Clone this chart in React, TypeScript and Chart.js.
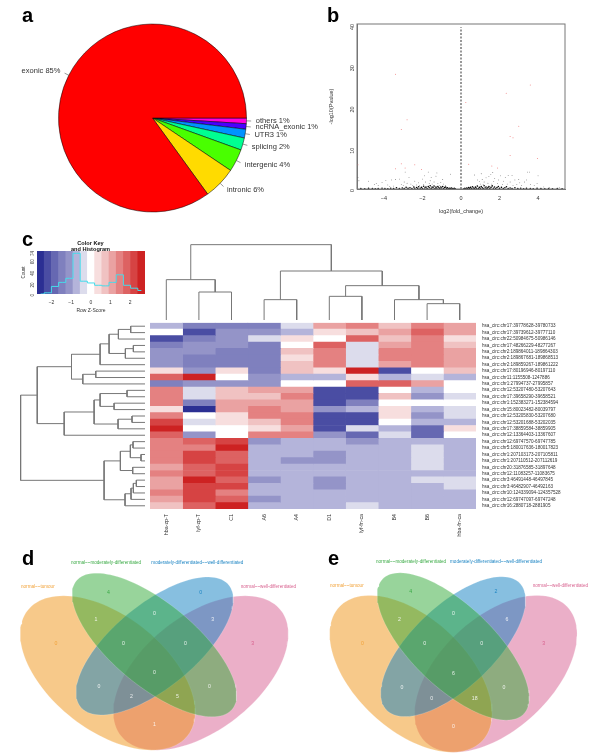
import React, { useEffect, useRef } from 'react';
import { Chart, registerables } from 'chart.js';

Chart.register(...registerables);
Chart.defaults.font.family = '"Liberation Sans", Arial, sans-serif';
Chart.defaults.plugins.legend.display = false;
Chart.defaults.plugins.tooltip.enabled = false;

// panel a
const pieLabels = ['others 1%', 'ncRNA_exonic 1%', 'UTR3 1%', 'splicing 2%', 'intergenic 4%', 'intronic 6%', 'exonic 85%'];
const pieValues = [0.97, 0.95, 1.5, 2.1, 3.9, 5.6, 85];
const pieColours = ['#FF00DB', '#4900FF', '#0092FF', '#00FF92', '#49FF00', '#FFDB00', '#FF0000'];

// panel b
const volcanoSig = [
  [-3.4, 27.8], [-2.8, 16.8], [-3.1, 14.4], [-5.35, 5.9], [-3.1, 6.1], [-2.9, 5.1], [-3.4, 4.9], [-2.4, 5.9], [-2.05, 4.7],
  [0.25, 21], [2.35, 23.2], [3.6, 25.2], [3, 15.2], [2.55, 12.7], [2.7, 12.4], [2.55, 8.1], [3.97, 7.4], [1.6, 5.6], [1.9, 5.1], [0.4, 6],
];
const volcanoScatter = [
  [-5.35, 2.8], [-5.3, 2], [-4.8, 1.9], [-4.5, 1.1], [-4.4, 1.3], [-4.3, 0.8], [-4.1, 1.6], [-3.9, 2.1], [-3.8, 1], [-3.7, 0.6],
  [-3.6, 2.2], [-3.4, 2.3], [-3.5, 0.7], [-3.2, 2.4], [-3.1, 1.1], [-3, 0.9], [-2.95, 1.7], [-2.9, 4.1], [-2.8, 1.4], [-2.7, 2.8],
  [-2.6, 1.2], [-2.5, 0.8], [-2.4, 1.9], [-2.3, 1], [-2.2, 1.5], [-2.15, 0.9], [-2, 2.4], [-1.95, 1.1], [-1.9, 3.2], [-1.85, 1.7],
  [-1.7, 4.1], [-1.65, 1.3], [-1.6, 2], [-1.55, 2.8], [-1.5, 1.2], [-1.4, 1.7], [-1.3, 3.1], [-1.25, 3.9], [-1.2, 1.3], [-1.1, 0.9],
  [-1.05, 1.6], [-0.95, 2.3], [-0.9, 1.2], [-0.8, 0.8], [-0.55, 3.6], [0.7, 3.4], [1.05, 3.7], [0.85, 2.2], [0.95, 1.8], [1, 1.2],
  [1.1, 2.3], [1.15, 1.1], [1.2, 1.7], [1.3, 2.7], [1.4, 1.4], [1.45, 3], [1.55, 3.5], [1.6, 1.2], [1.65, 4], [1.7, 1.8],
  [1.75, 2.6], [1.9, 1.3], [1.95, 2.2], [2.05, 3.2], [2.15, 1.1], [2.2, 1.9], [2.3, 2.8], [2.4, 1.2], [2.45, 3.3], [2.55, 1.7],
  [2.65, 3.3], [2.7, 0.9], [2.8, 2.2], [2.9, 1.1], [3, 2.3], [3.05, 1.5], [3.15, 0.8], [3.3, 1.7], [3.4, 2.2], [3.45, 4.1],
  [3.55, 4.1], [3.6, 1.1], [3.8, 0.9], [3.95, 1.3], [4, 3.2], [4.3, 0.5], [4.6, 0.4], [5.1, 0.4],
];
const volcanoBand = [
  [-5.2, 0.1], [-5, 0.05], [-4.8, 0.15], [-4.6, 0.1], [-4.45, 0.05], [-4.3, 0.1], [-4.1, 0.2], [-3.95, 0.1], [-3.8, 0.05], [-3.65, 0.2],
  [-3.5, 0.1], [-3.35, 0.3], [-3.2, 0.1], [-3.05, 0.25], [-2.95, 0.1], [-2.85, 0.4], [-2.75, 0.15], [-2.65, 0.3], [-2.55, 0.1], [-2.45, 0.5],
  [-2.4, 0.2], [-2.3, 0.35], [-2.25, 0.1], [-2.2, 0.55], [-2.12, 0.2], [-2.05, 0.4], [-2, 0.1], [-1.94, 0.65], [-1.88, 0.25], [-1.82, 0.45],
  [-1.76, 0.1], [-1.7, 0.6], [-1.65, 0.3], [-1.6, 0.8], [-1.55, 0.15], [-1.5, 0.5], [-1.45, 0.3], [-1.4, 0.7], [-1.35, 0.1], [-1.3, 0.45],
  [-1.25, 0.2], [-1.2, 0.6], [-1.15, 0.3], [-1.1, 0.1], [-1.05, 0.5], [-1, 0.25], [-0.95, 0.6], [-0.9, 0.1], [-0.85, 0.35], [-0.8, 0.5],
  [-0.75, 0.15], [-0.7, 0.3], [-0.65, 0.05], [-0.6, 0.2], [-0.55, 0.1], [-0.5, 0.25], [-0.45, 0.1], [-0.4, 0.05], [-0.35, 0.15], [-0.3, 0.05],
  [0.15, 0.05], [0.2, 0.15], [0.25, 0.05], [0.3, 0.25], [0.35, 0.1], [0.4, 0.35], [0.45, 0.15], [0.5, 0.4], [0.55, 0.1], [0.6, 0.55],
  [0.65, 0.25], [0.7, 0.1], [0.75, 0.45], [0.8, 0.2], [0.85, 0.7], [0.9, 0.1], [0.95, 0.4], [1, 0.2], [1.05, 0.6], [1.1, 0.3],
  [1.15, 0.1], [1.2, 0.8], [1.25, 0.25], [1.3, 0.5], [1.35, 0.1], [1.4, 0.35], [1.45, 0.6], [1.5, 0.15], [1.56, 0.4], [1.62, 0.75],
  [1.68, 0.2], [1.74, 0.5], [1.8, 0.1], [1.87, 0.35], [1.94, 0.6], [2, 0.15], [2.1, 0.4], [2.2, 0.1], [2.28, 0.3], [2.36, 0.55],
  [2.45, 0.1], [2.55, 0.25], [2.65, 0.1], [2.8, 0.3], [2.95, 0.1], [3.1, 0.2], [3.25, 0.05], [3.4, 0.15], [3.6, 0.1], [3.75, 0.05],
  [3.95, 0.15], [4.15, 0.1], [4.35, 0.05], [4.55, 0.1], [4.75, 0.05], [5, 0.1], [5.25, 0.05],
];
const zeroLine = [[0, 0], [0, 39.2]];

// panel c, colour key
const keyBinColours = [
  '#2B2F93', '#4A4DA3', '#6668B2', '#7F80BE', '#9494C8', '#B4B4DA', '#DCDCEC', '#FFFFFF',
  '#F7DEDE', '#F0C2C2', '#EAA2A2', '#E48181', '#DD6262', '#D64343', '#CD2222',
];
const keyBinCounts = [0, 2, 13, 20, 27, 70, 22, 19, 15, 14, 20, 33, 15, 10, 6];

// panel c, heat map: every cell is the colour key bin of its z-score, -7 to 7
const columnLabels = ['hba-zp-T', 'lyf-zp-T', 'C1', 'A6', 'A4', 'D1', 'lyf-fn-ca', 'B4', 'B6', 'hba-fn-ca'];
const rowLabels = [
  'hsa_circ:chr17:39778628-39780733', 'hsa_circ:chr17:39739612-39777110', 'hsa_circ:chr22:50984675-50986146',
  'hsa_circ:chr17:48266229-48277267', 'hsa_circ:chr2:189864011-189864303', 'hsa_circ:chr2:189867681-189868513',
  'hsa_circ:chr2:189859267-189861222', 'hsa_circ:chr17:80196946-80197110', 'hsa_circ:chr11:1155508-1247886',
  'hsa_circ:chr1:27994737-27995857', 'hsa_circ:chr12:53207480-53207643', 'hsa_circ:chr17:39658290-39658521',
  'hsa_circ:chr1:152383271-152384594', 'hsa_circ:chr15:80023482-80039797', 'hsa_circ:chr12:53205830-53207680',
  'hsa_circ:chr12:53201688-53202035', 'hsa_circ:chr17:38859584-38859905', 'hsa_circ:chr12:13364403-13367607',
  'hsa_circ:chr12:69747570-69747785', 'hsa_circ:chr5:180017636-180017823', 'hsa_circ:chr1:207103173-207105811',
  'hsa_circ:chr1:207110512-207112619', 'hsa_circ:chr20:31876585-31897648', 'hsa_circ:chr12:11083257-11083675',
  'hsa_circ:chr3:46491448-46497845', 'hsa_circ:chr3:46482907-46492163', 'hsa_circ:chr10:124339094-124357528',
  'hsa_circ:chr12:69747097-69747248', 'hsa_circ:chr16:2880718-2881905',
];
const heatBins = [
  [-2, -4, -4, -4, -1, 3, 4, 2, 4, 3],
  [0, -6, -3, -3, -2, 1, 2, 3, 5, 3],
  [-6, -4, -3, -1, 1, 0, 5, 2, 4, 1],
  [-4, -3, -3, -4, 0, 5, -1, 3, 4, 2],
  [-3, -3, -4, -4, 2, 4, -1, 4, 4, 3],
  [-3, -4, -4, -4, 1, 4, -1, 4, 4, 3],
  [-3, -4, -4, -4, 2, 4, -1, 3, 4, 3],
  [1, -3, 1, -4, 2, 1, 7, -6, 0, 2],
  [5, 7, 0, -3, -2, -2, 1, -2, -1, -2],
  [-4, -3, -3, -3, 0, 0, 5, 5, 3, 0],
  [4, -1, 2, 3, 3, -6, -6, 0, -2, 0],
  [4, -1, 2, 2, 4, -6, -6, 2, -3, -1],
  [4, -4, 3, 3, 3, -6, -4, 0, 0, 0],
  [1, -7, 3, 4, 3, -3, -2, 1, -2, -1],
  [4, 0, 1, 4, 4, -6, -6, 1, -3, -1],
  [6, -1, 1, 2, 4, -6, -6, 0, -2, -2],
  [7, 0, 0, 1, 3, -6, -1, -2, -5, 1],
  [5, -3, 0, 4, 4, -3, -5, -1, -5, 0],
  [4, 5, 6, -3, -2, -2, -3, -2, -2, -2],
  [4, 4, 7, -2, -2, -2, -2, -2, -1, -2],
  [4, 6, 5, -2, -2, -3, -2, -2, -1, -2],
  [4, 6, 5, -2, -3, -3, -2, -2, -1, -2],
  [3, 5, 6, -2, -2, -2, -2, -2, -1, -2],
  [4, 5, 6, -2, -2, -2, -2, -2, -2, -2],
  [3, 7, 5, -3, -2, -3, -2, -2, -1, -1],
  [3, 6, 6, -2, -2, -3, -2, -2, -2, -1],
  [4, 6, 4, -2, -2, -2, -2, -2, -2, -2],
  [3, 6, 5, -3, -2, -2, -2, -2, -2, -2],
  [2, 5, 7, -2, -2, -2, -1, -2, -2, -2],
];

// dendrograms, written like hclust merges: negative = leaf number, positive = earlier merge
const topMerges = [
  [-2, -3, 84], [-1, 1, 121], [-4, -5, 61], [-6, -7, 71], [-9, -10, 49],
  [-8, 5, 61], [4, 6, 103], [3, 7, 147], [2, 8, 226],
];
const leftMerges = [
  [-1, -2, 43], [1, -3, 80], [-4, -5, 35], [3, -6, 59], [2, 4, 108], [5, -7, 135], [-8, -9, 148],
  [7, -10, 187], [6, 8, 221], [-11, -12, 54], [-13, -14, 93], [10, 11, 135], [-15, -16, 39], [13, -17, 81],
  [12, 14, 153], [15, -18, 243], [9, 16, 324], [-19, -20, 36], [-21, -22, 12], [18, 19, 44], [-23, -24, 37],
  [20, 21, 74], [-25, -26, 26], [23, -27, 35], [24, -28, 42], [25, -29, 60], [22, 26, 123], [17, 27, 374],
];

// panels d and e
const vennSetNames = [
  'normal~~moderately-differentiated', 'moderately-differentiated~~well-differentiated',
  'normal~~tumour', 'normal~~well-differentiated',
];
const vennColours = ['rgba(49,169,55,0.5)', 'rgba(15,127,193,0.5)', 'rgba(239,147,21,0.5)', 'rgba(215,95,145,0.5)'];
const vennTextColours = ['#3CAB47', '#1F86C4', '#F2A33A', '#D8628F'];
const vennCountsD = [4, 0, 0, 3, 1, 0, 3, 0, 0, 0, 0, 0, 2, 5, 1];
const vennCountsE = [4, 2, 0, 3, 2, 0, 6, 0, 0, 6, 0, 0, 0, 18, 0];

const vennShapeD = [[463, 315, 303, 125, 39.5], [464, 318, 288, 125, -39.5], [323, 399, 305, 172, 38], [602.5, 399, 305, 172, -38]];
const vennShapeE = [[459.5, 319.5, 293, 123, 43.7], [459.5, 320, 276, 123, -43.5], [332.5, 401.5, 294, 168, 43], [587.5, 401.5, 294, 168, -43]];
const vennRegionsD = [
  [325, 158], [602, 158], [168, 311], [758, 311], [288, 238], [463, 222], [638, 238], [370, 311],
  [556, 311], [463, 399], [297, 439], [628, 439], [394, 471], [532, 471], [463, 553],
];
const vennRegionsE = [
  [332, 155], [588, 155], [187, 312], [731, 312], [298, 238], [460, 222], [621, 238], [374, 312],
  [545, 312], [460, 402], [306, 443], [612, 443], [395, 476], [524, 476], [460, 559],
];
const vennTitlesD = [[213, 69], [454, 69], [63, 139], [722, 139]];
const vennTitlesE = [[228, 65], [450, 65], [90, 137], [698, 137]];

const sizeAxis = (prop: 'width' | 'height', size: number) => (scale: any) => {
  scale[prop] = size;
};

const binColour = (bin: number) => keyBinColours[bin + 7];

const pieConfig = () => ({
  type: 'pie',
  data: {
    labels: pieLabels,
    datasets: [{ data: pieValues, backgroundColor: pieColours, borderColor: '#000', borderWidth: 0.5 }],
  },
  options: {
    animation: false,
    responsive: false,
    rotation: 90,
    radius: 94,
    layout: { padding: { right: 15 } },
  },
  plugins: [{
    id: 'pieText',
    afterDatasetsDraw(chart: any) {
      const ctx = chart.ctx;
      ctx.save();
      ctx.font = '7.5px "Liberation Sans"';
      ctx.fillStyle = '#333';
      ctx.strokeStyle = '#333';
      ctx.lineWidth = 0.5;
      ctx.textBaseline = 'middle';
      chart.getDatasetMeta(0).data.forEach((arc: any, i: number) => {
        const { x, y, startAngle, endAngle, outerRadius } = arc.getProps(['x', 'y', 'startAngle', 'endAngle', 'outerRadius']);
        const mid = (startAngle + endAngle) / 2;
        const c = Math.cos(mid);
        const s = Math.sin(mid);
        ctx.beginPath();
        ctx.moveTo(x + outerRadius * c, y + outerRadius * s);
        ctx.lineTo(x + outerRadius * 1.05 * c, y + outerRadius * 1.05 * s);
        ctx.stroke();
        ctx.textAlign = c > 0 ? 'left' : 'right';
        ctx.fillText(pieLabels[i], x + outerRadius * 1.1 * c, y + outerRadius * 1.1 * s);
      });
      ctx.restore();
    },
  }],
});

const frameBorder = {
  id: 'frame',
  afterDraw(chart: any) {
    const { left, top, width, height } = chart.chartArea;
    chart.ctx.save();
    chart.ctx.strokeStyle = '#777';
    chart.ctx.lineWidth = 1;
    chart.ctx.strokeRect(left, top, width, height);
    chart.ctx.restore();
  },
};

const volcanoConfig = () => ({
  type: 'scatter',
  data: {
    datasets: [
      { data: zeroLine.map(([x, y]) => ({ x, y })), showLine: true, pointRadius: 0, borderColor: '#777', borderWidth: 1.5, borderDash: [2, 1.5] },
      { data: volcanoSig.map(([x, y]) => ({ x, y })), pointRadius: 0.5, backgroundColor: '#f08080', borderWidth: 0 },
      { data: volcanoScatter.map(([x, y]) => ({ x, y })), pointRadius: 0.4, backgroundColor: '#333', borderWidth: 0 },
      { data: volcanoBand.map(([x, y]) => ({ x, y })), pointRadius: 0.8, backgroundColor: '#000', borderWidth: 0 },
    ],
  },
  options: {
    animation: false,
    responsive: false,
    layout: { autoPadding: false, padding: { top: 24, right: 35 } },
    scales: {
      x: {
        min: -5.4,
        max: 5.4,
        afterFit: sizeAxis('height', 36),
        grid: { display: false, tickLength: 3, tickColor: '#555' },
        border: { color: '#777' },
        ticks: { stepSize: 2, includeBounds: false, font: { size: 5.5 }, color: '#333', padding: 3, callback: (v: number) => (v < 0 ? '\u2212' + -v : v) },
        title: { display: true, text: 'log2(fold_change)', font: { size: 5.5 }, color: '#333', padding: { top: 5, bottom: 10 } },
      },
      y: {
        min: 0,
        max: 40,
        afterFit: sizeAxis('width', 37),
        grid: { display: false, tickLength: 3, tickColor: '#555' },
        border: { color: '#777' },
        ticks: { stepSize: 10, font: { size: 5.5 }, color: '#333', padding: 2, minRotation: 90, maxRotation: 90 },
        title: { display: true, text: '-log10(Pvalue)', font: { size: 5.5 }, color: '#333', padding: { top: 8, bottom: 0 } },
      },
    },
  },
  plugins: [frameBorder],
});

const keyConfig = () => ({
  type: 'bar',
  data: {
    labels: keyBinCounts.map((_, i) => String(i)),
    datasets: [
      { type: 'line', data: keyBinCounts, stepped: 'middle', borderColor: '#45DCEB', borderWidth: 1, pointRadius: 0, xAxisID: 'bin', yAxisID: 'y' },
      { data: keyBinCounts.map(() => 74), backgroundColor: keyBinColours, barPercentage: 1, categoryPercentage: 1, xAxisID: 'bin', yAxisID: 'y' },
    ],
  },
  options: {
    animation: false,
    responsive: false,
    layout: { autoPadding: false, padding: { top: 26, right: 15 } },
    scales: {
      bin: { type: 'category', axis: 'x', display: false, offset: true },
      z: {
        type: 'linear',
        axis: 'x',
        position: 'bottom',
        min: -2.19,
        max: 2.21,
        afterFit: sizeAxis('height', 26),
        grid: { display: false, tickLength: 3, tickColor: '#555' },
        border: { display: false },
        ticks: { stepSize: 1, includeBounds: false, font: { size: 5 }, color: '#333', padding: 3, callback: (v: number) => (v < 0 ? '\u2212' + -v : v) },
        title: { display: true, text: 'Row Z-Score', font: { size: 5 }, color: '#333', padding: { top: 3, bottom: 6 } },
      },
      y: {
        min: 0,
        max: 74,
        afterFit: sizeAxis('width', 37),
        grid: { display: false, tickLength: 3, tickColor: '#555' },
        border: { display: false },
        ticks: { stepSize: 20, font: { size: 4.5 }, color: '#333', padding: 1, minRotation: 90, maxRotation: 90 },
        title: { display: true, text: 'Count', font: { size: 4.5 }, color: '#333', padding: { top: 21, bottom: 0 } },
      },
    },
  },
  plugins: [{
    id: 'keyTitle',
    afterDraw(chart: any) {
      const ctx = chart.ctx;
      ctx.save();
      ctx.font = 'bold 5.6px "Liberation Sans"';
      ctx.fillStyle = '#111';
      ctx.textAlign = 'center';
      ctx.fillText('Color Key', 90.5, 20);
      ctx.fillText('and Histogram', 90.5, 26);
      ctx.restore();
    },
  }],
});

const heatConfig = () => ({
  type: 'bar',
  data: {
    labels: rowLabels,
    datasets: columnLabels.map((label, c) => ({
      label,
      data: heatBins.map(() => [c, c + 1]),
      backgroundColor: heatBins.map((row) => binColour(row[c])),
      borderWidth: 0,
      barPercentage: 1,
      categoryPercentage: 1,
      grouped: false,
    })),
  },
  options: {
    animation: false,
    responsive: false,
    indexAxis: 'y',
    layout: { autoPadding: false },
    scales: {
      x: { type: 'linear', min: 0, max: 10, display: false },
      column: {
        type: 'category',
        axis: 'x',
        position: 'bottom',
        labels: columnLabels,
        offset: true,
        afterFit: sizeAxis('height', 39),
        grid: { display: false, drawTicks: false },
        border: { display: false },
        ticks: { font: { size: 5.3 }, color: '#333', padding: 5, minRotation: 90, maxRotation: 90, autoSkip: false },
      },
      y: {
        position: 'right',
        afterFit: sizeAxis('width', 124),
        grid: { display: false, drawTicks: false },
        border: { display: false },
        ticks: { font: { size: 4.6 }, color: '#333', padding: 6, autoSkip: false },
      },
    },
  },
});

// positions of the dendrogram branches in leaf units and merge heights
function dendroPaths(merges: number[][]) {
  const pos: number[] = [];
  const height: number[] = [];
  const at = (id: number) => (id < 0 ? [-id - 0.5, 0] : [pos[id - 1], height[id - 1]]);
  return merges.map(([a, b, h], i) => {
    const [pa, ha] = at(a);
    const [pb, hb] = at(b);
    pos[i] = (pa + pb) / 2;
    height[i] = h;
    return [[pa, ha], [pa, h], [pb, h], [pb, hb]];
  });
}

const dendroConfig = (merges: number[][], horizontal: boolean, leaves: number, maxHeight: number) => ({
  type: 'scatter',
  data: {
    datasets: dendroPaths(merges).map((path) => ({
      data: path.map(([p, h]) => (horizontal ? { x: p, y: h } : { x: h, y: p })),
      showLine: true,
      pointRadius: 0,
      borderColor: '#777',
      borderWidth: 1,
    })),
  },
  options: {
    animation: false,
    responsive: false,
    layout: { autoPadding: false },
    scales: horizontal
      ? { x: { min: 0, max: leaves, display: false }, y: { min: 0, max: maxHeight, display: false } }
      : { x: { min: 0, max: maxHeight, reverse: true, display: false }, y: { min: 0, max: leaves, reverse: true, display: false } },
  },
});

const ellipseOutline = ([cx, cy, a, b, deg]: number[]) => {
  const th = (deg * Math.PI) / 180;
  return Array.from({ length: 121 }, (_, i) => {
    const t = (i * Math.PI) / 60;
    return {
      x: cx + a * Math.cos(t) * Math.cos(th) - b * Math.sin(t) * Math.sin(th),
      y: cy + a * Math.cos(t) * Math.sin(th) + b * Math.sin(t) * Math.cos(th),
    };
  });
};

const vennConfig = (shapes: number[][], counts: number[], regions: number[][], titles: number[][]) => ({
  type: 'scatter',
  data: {
    datasets: [
      { data: regions.map(([x, y]) => ({ x, y })), pointRadius: 0 },
      ...shapes.map((shape, i) => ({
        data: ellipseOutline(shape),
        showLine: true,
        fill: 'shape',
        pointRadius: 0,
        backgroundColor: vennColours[i],
        borderColor: 'rgba(255,255,255,0.3)',
        borderWidth: 0.6,
      })),
    ],
  },
  options: {
    animation: false,
    responsive: false,
    layout: { autoPadding: false },
    scales: {
      x: { min: 0, max: 900, display: false },
      y: { min: 0, max: 645, reverse: true, display: false },
    },
  },
  plugins: [{
    id: 'vennText',
    afterDatasetsDraw(chart: any) {
      const { ctx, scales } = chart;
      ctx.save();
      ctx.textBaseline = 'middle';
      ctx.font = '4.6px "Liberation Sans"';
      ctx.textAlign = 'left';
      titles.forEach(([x, y], i) => {
        ctx.fillStyle = vennTextColours[i];
        ctx.fillText(vennSetNames[i], scales.x.getPixelForValue(x), scales.y.getPixelForValue(y));
      });
      ctx.font = '5.2px "Liberation Sans"';
      ctx.textAlign = 'center';
      chart.getDatasetMeta(0).data.forEach((pt: any, i: number) => {
        ctx.fillStyle = i < 4 ? vennTextColours[i] : 'rgba(255,255,255,0.85)';
        ctx.fillText(String(counts[i]), pt.x, pt.y);
      });
      ctx.restore();
    },
  }],
});

function Panel({ left, top, width, height, config }: { left: number; top: number; width: number; height: number; config: () => any }) {
  const ref = useRef<HTMLCanvasElement>(null);

  useEffect(() => {
    if (!ref.current) return;
    const chart = new Chart(ref.current, config());
    return () => chart.destroy();
  }, []);

  return (
    <div style={{ position: 'absolute', left, top, width, height }}>
      <canvas ref={ref} width={width} height={height} />
    </div>
  );
}

const letters = [['a', 22, 5], ['b', 327, 5], ['c', 22, 229], ['d', 22, 548], ['e', 328, 548]];

export default function App() {
  return (
    <div style={{ position: 'absolute', left: 0, top: 0, width: 600, height: 755, background: '#fff', overflow: 'hidden' }}>
      <Panel left={0} top={0} width={320} height={236} config={pieConfig} />
      <Panel left={320} top={0} width={280} height={225} config={volcanoConfig} />
      <Panel left={0} top={225} width={160} height={95} config={keyConfig} />
      <Panel left={150} top={235} width={326} height={85} config={() => dendroConfig(topMerges, true, 10, 255)} />
      <Panel left={0} top={323} width={145} height={186} config={() => dendroConfig(leftMerges, false, 29, 436)} />
      <Panel left={150} top={314} width={450} height={234} config={heatConfig} />
      <Panel left={0} top={540} width={300} height={215} config={() => vennConfig(vennShapeD, vennCountsD, vennRegionsD, vennTitlesD)} />
      <Panel left={300} top={540} width={300} height={215} config={() => vennConfig(vennShapeE, vennCountsE, vennRegionsE, vennTitlesE)} />
      {letters.map(([t, x, y]) => (
        <div key={t as string} style={{ position: 'absolute', left: x as number, top: y as number, font: 'bold 20px/20px "Liberation Sans"', color: '#000' }}>{t}</div>
      ))}
    </div>
  );
}
